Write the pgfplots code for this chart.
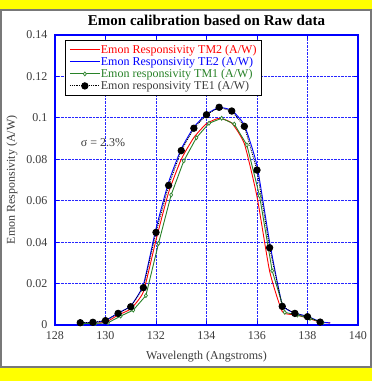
\documentclass[border=0pt]{standalone}
\usepackage{pgfplots}
\pgfplotsset{compat=1.18}
\usepackage{fontspec}
\setmainfont{Liberation Serif}
\definecolor{tmgreen}{RGB}{40,130,40}
\definecolor{txtgray}{RGB}{60,60,60}
\definecolor{bgyellow}{RGB}{255,255,0}
\definecolor{bordergray}{RGB}{120,120,120}
\newcommand{\lbl}{\fontsize{12}{13}\selectfont}
\begin{document}
\begin{tikzpicture}
\useasboundingbox (-55pt,-56pt) rectangle (317pt,325pt);
\fill[bgyellow] (-55pt,-56pt) rectangle (317pt,325pt);
\filldraw[fill=white, draw=bordergray, line width=1.4pt] (-54pt,-42pt) rectangle (316pt,315pt);
\begin{axis}[
  at={(0pt,0pt)}, anchor=south west,
  scale only axis, width=303pt, height=290pt,
  xmin=128, xmax=140, ymin=0, ymax=0.14,
  xtick={128,130,...,140},
  ytick={0,0.02,0.04,0.06,0.08,0.1,0.12,0.14},
  yticklabels={0,0.02,0.04,0.06,0.08,0.1,0.12,0.14},
  /pgf/number format/assume math mode=true,
  tick label style={font=\lbl, text=txtgray},
  xticklabel style={yshift=-3pt},
  yticklabel style={xshift=-4pt},
  axis line style={blue, line width=1.1pt},
  tick style={blue, line width=0.8pt},
  major tick length=4pt,
  tick align=inside,
  grid=major,
  major grid style={blue!85, densely dotted, line width=0.75pt},
  xlabel={Wavelength (Angstroms)},
  ylabel={Emon Responsivity (A/W)},
  xlabel style={at={(rel axis cs:0.5,-0.110)}, anchor=center, font=\lbl, text=txtgray},
  ylabel style={at={(rel axis cs:-0.142,0.5)}, anchor=center, font=\lbl, text=txtgray},
  legend style={at={(rel axis cs:0.033,0.983)}, anchor=north west, draw=black, line width=0.8pt,
    font=\lbl, inner sep=4pt, nodes={inner sep=0.6pt}, row sep=1pt},
  legend cell align=left,
  legend image code/.code={\draw[mark repeat=2,mark phase=2,#1] plot coordinates {(0pt,0pt) (15pt,0pt) (30pt,0pt)};},
  clip=false,
]
\addplot[red, line width=0.9pt, smooth, tension=0.3] coordinates {
(129.0,0.0009) (129.5,0.0009) (130.0,0.0013) (130.5,0.0048) (131.0,0.0078)
(131.5,0.0160) (132.0,0.0410) (132.5,0.0640) (133.0,0.0800) (133.5,0.0905)
(134.0,0.0972) (134.5,0.0998) (135.0,0.0975) (135.5,0.0875) (136.0,0.0620)
(136.5,0.0260) (137.0,0.0065) (137.5,0.0050) (138.0,0.0034) (138.5,0.0014) (138.9,0.0010)};
\addlegendentry{\textcolor{red}{Emon Responsivity TM2 (A/W)}}
\addplot[blue, line width=0.9pt, smooth, tension=0.3] coordinates {
(128.9,0.0010) (129.5,0.0012) (130.0,0.0022) (130.5,0.0058) (131.0,0.0092)
(131.5,0.0195) (132.0,0.0465) (132.5,0.0690) (133.0,0.0850) (133.5,0.0955)
(134.0,0.1018) (134.5,0.1050) (135.0,0.1036) (135.5,0.0965) (136.0,0.0770)
(136.5,0.0400) (137.0,0.0100) (137.5,0.0058) (138.0,0.0042) (138.5,0.0016) (138.9,0.0010)};
\addlegendentry{\textcolor{blue}{Emon Responsivity TE2 (A/W)}}
\addplot[tmgreen, line width=0.9pt, mark=diamond*, mark size=2pt, mark options={fill=white, line width=0.7pt}] coordinates {
(129.1,0.0008) (129.6,0.0008) (130.1,0.0011) (130.6,0.0043) (131.1,0.0072)
(131.6,0.0142) (132.1,0.0394) (132.6,0.0628) (133.1,0.0792) (133.6,0.0904)
(134.1,0.0974) (134.6,0.0998) (135.1,0.0970) (135.6,0.0869) (136.1,0.0624)
(136.6,0.0262) (137.1,0.0061) (137.6,0.0048) (138.1,0.0032) (138.6,0.0011)};
\addlegendentry{\textcolor{tmgreen}{Emon responsivity TM1 (A/W)}}
\addplot[black, densely dotted, line width=0.9pt, mark=*, mark size=3.2pt, mark options={solid}] coordinates {
(129.0,0.0011) (129.5,0.0013) (130.0,0.0021) (130.5,0.0056) (131.0,0.0088)
(131.5,0.0180) (132.0,0.0447) (132.5,0.0674) (133.0,0.0842) (133.5,0.0950)
(134.0,0.1015) (134.5,0.1051) (135.0,0.1033) (135.5,0.0959) (136.0,0.0748)
(136.5,0.0373) (137.0,0.0090) (137.5,0.0056) (138.0,0.0040) (138.5,0.0014)};
\addlegendentry{\textcolor{txtgray}{Emon responsivity TE1 (A/W)}}
\node[font=\lbl, text=txtgray] at (axis cs:129.9,0.088) {σ = 2.3\%};
\node[font=\fontsize{15}{17}\selectfont\bfseries] at (rel axis cs:0.5,1) [yshift=15pt] {Emon calibration based on Raw data};
\end{axis}
\end{tikzpicture}
\end{document}
